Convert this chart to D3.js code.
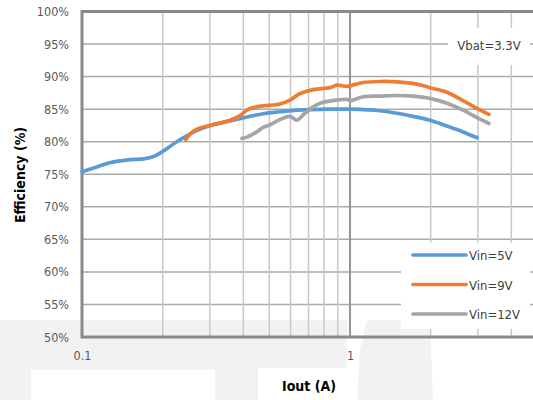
<!DOCTYPE html>
<html>
<head>
<meta charset="utf-8">
<script src="https://cdn.jsdelivr.net/npm/d3@7"></script>
<style>
  html, body { margin: 0; padding: 0; background: #ffffff; }
  svg { display: block; }
  .narrow { font-family: "Liberation Sans Narrow", "Arial Narrow", "DejaVu Sans Condensed", sans-serif; font-stretch: condensed; }
</style>
</head>
<body>
<svg id="chart" width="533" height="400"></svg>
<script>
// Output current (A) and efficiency (%) for each input voltage
const seriesNames = ["Vin=5V", "Vin=9V", "Vin=12V"];
const seriesColors = ["#5b9bd5", "#ed7d31", "#a5a5a5"];

const vin5Current = [0.1, 0.115, 0.128, 0.1485, 0.172, 0.187, 0.2, 0.228, 0.249, 0.264, 0.308, 0.357, 0.413, 0.474, 0.548, 0.634, 0.842, 1.0, 1.294, 1.718, 1.988, 2.30, 2.64, 2.98];
const vin5Eff     = [75.4, 76.2, 76.8, 77.2, 77.4, 77.8, 78.5, 80.1, 81.0, 81.6, 82.6, 83.2, 83.8, 84.3, 84.6, 84.85, 85.0, 85.0, 84.75, 83.9, 83.3, 82.4, 81.5, 80.6];

const vin9Current = [0.244, 0.255, 0.271, 0.308, 0.357, 0.389, 0.413, 0.442, 0.474, 0.548, 0.597, 0.651, 0.728, 0.842, 0.894, 0.975, 1.044, 1.118, 1.294, 1.497, 1.777, 1.988, 2.30, 2.64, 2.95, 3.30];
const vin9Eff     = [80.3, 81.3, 82.0, 82.6, 83.3, 84.0, 84.9, 85.3, 85.5, 85.8, 86.4, 87.4, 88.0, 88.3, 88.7, 88.5, 88.8, 89.1, 89.25, 89.2, 88.85, 88.3, 87.6, 86.3, 85.2, 84.2];

const vin12Current = [0.395, 0.413, 0.449, 0.474, 0.503, 0.548, 0.597, 0.634, 0.668, 0.709, 0.773, 0.894, 0.975, 1.0, 1.118, 1.294, 1.497, 1.718, 1.988, 2.30, 2.64, 2.98, 3.30];
const vin12Eff     = [80.5, 80.7, 81.5, 82.2, 82.6, 83.4, 83.9, 83.3, 84.1, 85.0, 85.9, 86.4, 86.5, 86.3, 86.9, 87.0, 87.1, 87.0, 86.65, 85.9, 84.85, 83.7, 82.8];

const yTicks = [50, 55, 60, 65, 70, 75, 80, 85, 90, 95, 100];
const xTickValues = [0.1, 1];
const xTickLabels = ["0.1", "1"];
const minorCurrents = [0.2, 0.3, 0.4, 0.5, 0.6, 0.7, 0.8, 0.9, 2, 3, 4, 5, 6, 7, 8, 9];

const series = [
  { name: seriesNames[0], color: seriesColors[0], current: vin5Current, eff: vin5Eff },
  { name: seriesNames[1], color: seriesColors[1], current: vin9Current, eff: vin9Eff },
  { name: seriesNames[2], color: seriesColors[2], current: vin12Current, eff: vin12Eff }
];

const svg = d3.select("#chart");
const W = 533, H = 400;
const plot = { left: 82, top: 11.5, right: 618, bottom: 337 };

const x = d3.scaleLog().domain([0.1, 10]).range([plot.left, plot.right]);
const y = d3.scaleLinear().domain([50, 100]).range([plot.bottom, plot.top]);

// Soft grey backdrop along the bottom of the page
const bg = svg.append("g");
const bgFill = "#f2f2f2";
bg.append("path").attr("fill", bgFill)
  .attr("d", "M0,320 L347,320 L347,368 L258,368 L258,400 L215,400 L215,370 L31,370 L31,400 L0,400 Z");
bg.append("path").attr("fill", bgFill)
  .attr("d", "M367,320 L430,320 L433,400 L357,400 L360,350 Z");

// Grid
const grid = svg.append("g");
grid.selectAll("line.h").data(yTicks.filter(v => v > 50 && v < 100)).join("line")
  .attr("x1", plot.left).attr("x2", W)
  .attr("y1", d => y(d)).attr("y2", d => y(d))
  .attr("stroke", "#a9a9a9").attr("stroke-width", 1.5);
grid.selectAll("line.v").data(minorCurrents).join("line")
  .attr("x1", d => x(d)).attr("x2", d => x(d))
  .attr("y1", plot.top).attr("y2", plot.bottom)
  .attr("stroke", "#c8c8c8").attr("stroke-width", 1.5);
grid.append("line")
  .attr("x1", x(1)).attr("x2", x(1))
  .attr("y1", plot.top).attr("y2", plot.bottom)
  .attr("stroke", "#959595").attr("stroke-width", 2);

// Frame: left, top and bottom edges
const frame = svg.append("g").attr("stroke", "#8a8a8a").attr("stroke-width", 3);
frame.append("line").attr("x1", plot.left).attr("x2", plot.left).attr("y1", plot.top - 1.5).attr("y2", plot.bottom + 1.5);
frame.append("line").attr("x1", plot.left).attr("x2", W).attr("y1", plot.top).attr("y2", plot.top);
frame.append("line").attr("x1", plot.left).attr("x2", W).attr("y1", plot.bottom).attr("y2", plot.bottom);

// Axes (labels only)
const yAxis = svg.append("g").attr("class", "narrow")
  .attr("transform", `translate(${plot.left},0)`)
  .call(d3.axisLeft(y).tickValues(yTicks).tickSize(0).tickPadding(13).tickFormat(d => d + "%"));
yAxis.select(".domain").remove();
yAxis.selectAll("text").attr("fill", "#595959").style("font-size", "12.5px");

const xAxis = svg.append("g").attr("class", "narrow")
  .attr("transform", `translate(0,${plot.bottom})`)
  .call(d3.axisBottom(x).tickValues(xTickValues).tickSize(0).tickPadding(14)
    .tickFormat((d, i) => xTickLabels[i]));
xAxis.select(".domain").remove();
xAxis.selectAll("text").attr("fill", "#595959").style("font-size", "12.5px");

// Curves
const line = d3.line()
  .x(d => x(d[0]))
  .y(d => y(d[1]))
  .curve(d3.curveCatmullRom.alpha(0.5));

svg.append("g").selectAll("path").data(series).join("path")
  .attr("d", s => line(d3.zip(s.current, s.eff)))
  .attr("fill", "none")
  .attr("stroke", s => s.color)
  .attr("stroke-width", 3.7)
  .attr("stroke-linejoin", "round")
  .attr("stroke-linecap", "round");

// Vbat annotation box
svg.append("rect").attr("x", 448).attr("y", 28).attr("width", 82).attr("height", 37).attr("fill", "#ffffff");
svg.append("text").attr("class", "narrow")
  .attr("x", 489).attr("y", 50)
  .attr("text-anchor", "middle")
  .attr("fill", "#404040").style("font-size", "13px")
  .text("Vbat=3.3V");

// Legend
const legend = svg.append("g");
legend.append("rect").attr("x", 401).attr("y", 243).attr("width", 129).attr("height", 86).attr("fill", "#ffffff");
const items = legend.selectAll("g.item").data(series).join("g")
  .attr("transform", (d, i) => `translate(0,${255 + i * 29.5})`);
items.append("line")
  .attr("x1", 413).attr("x2", 466).attr("y1", 0).attr("y2", 0)
  .attr("stroke", d => d.color).attr("stroke-width", 3.7).attr("stroke-linecap", "round");
items.append("text").attr("class", "narrow")
  .attr("x", 469).attr("y", 5)
  .attr("fill", "#404040").style("font-size", "13px")
  .text(d => d.name);

// Axis titles
svg.append("text").attr("class", "narrow")
  .attr("transform", "translate(25,175) rotate(-90)")
  .attr("text-anchor", "middle")
  .attr("fill", "#000000").style("font-size", "14px").style("font-weight", "bold")
  .text("Efficiency (%)");
svg.append("text").attr("class", "narrow")
  .attr("x", 309).attr("y", 391)
  .attr("text-anchor", "middle")
  .attr("fill", "#000000").style("font-size", "14px").style("font-weight", "bold")
  .text("Iout (A)");
</script>
</body>
</html>
